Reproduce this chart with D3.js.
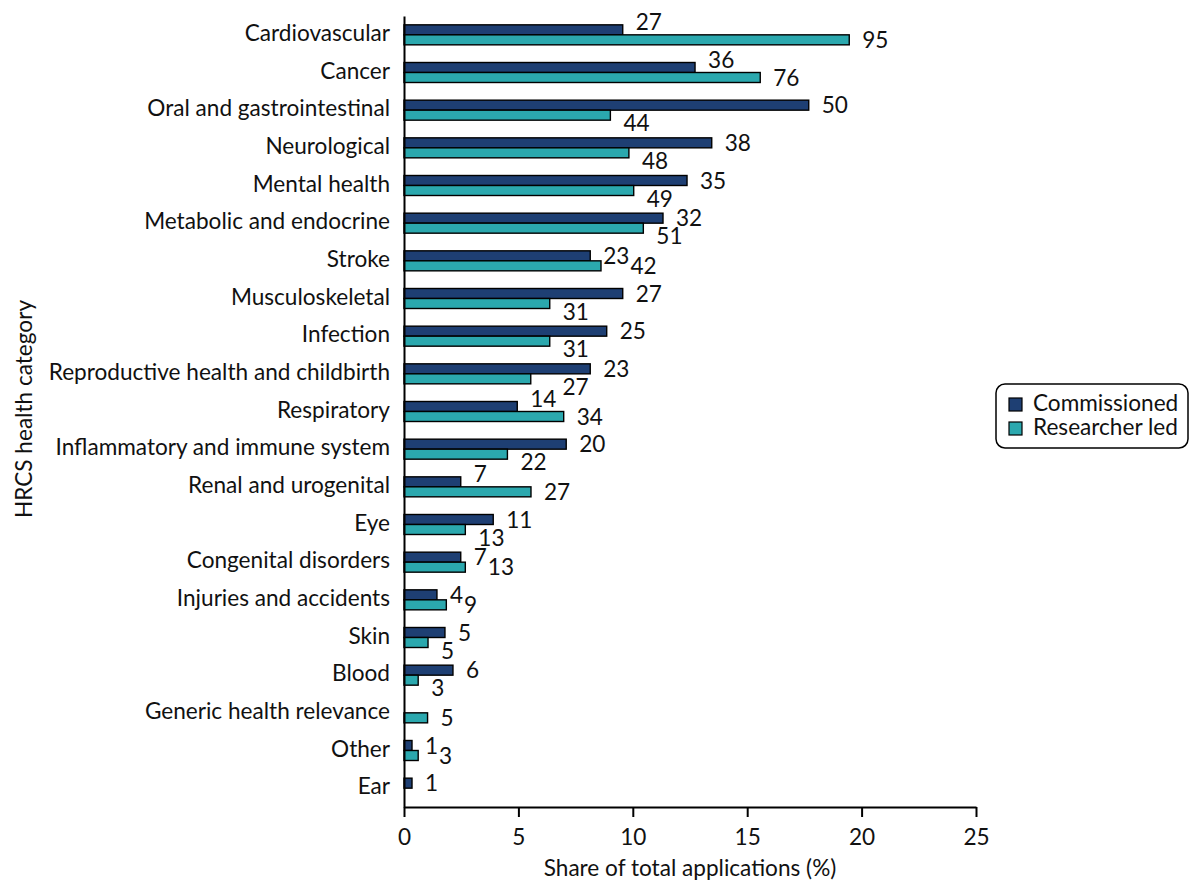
<!DOCTYPE html>
<html><head><meta charset="utf-8">
<script src="https://cdn.jsdelivr.net/npm/d3@7"></script>
<style>
body{margin:0;background:#fff}
text{font-family:Lato,"Noto Sans",sans-serif;fill:#111}
</style>
</head><body>
<svg id="c" width="1189" height="882"></svg>
<script>
const categories = ["Cardiovascular","Cancer","Oral and gastrointestinal","Neurological","Mental health",
  "Metabolic and endocrine","Stroke","Musculoskeletal","Infection","Reproductive health and childbirth",
  "Respiratory","Inflammatory and immune system","Renal and urogenital","Eye","Congenital disorders",
  "Injuries and accidents","Skin","Blood","Generic health relevance","Other","Ear"];
const seriesNames = ["Commissioned","Researcher led"];
const commissionedShare = [9.56,12.72,17.69,13.45,12.37,11.32,8.14,9.56,8.86,8.14,4.95,7.09,2.48,3.90,2.48,1.44,1.79,2.14,null,0.35,0.35];
const researcherShare   = [19.46,15.57,9.02,9.83,10.04,10.46,8.61,6.37,6.37,5.54,6.98,4.52,5.55,2.68,2.68,1.85,1.05,0.62,1.03,0.62,null];
const commissionedCount = [27,36,50,38,35,32,23,27,25,23,14,20,7,11,7,4,5,6,null,1,1];
const researcherCount   = [95,76,44,48,49,51,42,31,31,27,34,22,27,13,13,9,5,3,5,3,null];
const xTicks = [0,5,10,15,20,25];
const xTitle = "Share of total applications (%)";
const yTitle = "HRCS health category";

const colors = ["#1e3f73","#2ba8ae"];
const FS = 22.6;
const svg = d3.select("#c");
const x = d3.scaleLinear().domain([0,25]).range([404,976]);
const y = d3.scaleBand().domain(categories).range([16,807]);
const barH = 10;

const rows = categories.map((c,i)=>({c, vals:[commissionedShare[i],researcherShare[i]], counts:[commissionedCount[i],researcherCount[i]]}));

// bars
const g = svg.append("g");
rows.forEach(r=>{
  const mid = y(r.c)+y.bandwidth()/2;
  r.vals.forEach((v,k)=>{
    if(v==null) return;
    g.append("rect").attr("x",x(0)).attr("y",mid-barH+k*barH).attr("width",x(v)-x(0)).attr("height",barH)
      .attr("fill",colors[k]).attr("stroke","#000").attr("stroke-width",1.4);
  });
});

// axes
const xa = svg.append("g").attr("transform","translate(0,807)")
  .call(d3.axisBottom(x).tickValues(xTicks).tickSize(10).tickSizeOuter(0).tickPadding(12));
xa.selectAll("path,line").attr("stroke","#000").attr("stroke-width",2);
xa.selectAll("text").attr("font-size",FS).attr("font-family","Lato").attr("fill","#111");
const ya = svg.append("g").attr("transform","translate(404,0)")
  .call(d3.axisLeft(y).tickSize(0).tickSizeOuter(0).tickPadding(14));
ya.selectAll("path").attr("stroke","#000").attr("stroke-width",2);
ya.selectAll("text").attr("font-size",FS).attr("font-family","Lato").attr("fill","#111").attr("dy","0.28em");

// value labels with simple repel
const lg = svg.append("g");
const allLabs = [];
const H = 16;
const overlap = (p,q)=> Math.abs(p.y-q.y) < H && p.x < q.x + q.w && q.x < p.x + p.w;
rows.forEach(r=>{
  const mid = y(r.c)+y.bandwidth()/2;
  const labs = [];
  r.vals.forEach((v,k)=>{
    if(v==null) {labs.push(null); return;}
    const t = lg.append("text").attr("font-size",FS).text(r.counts[k]);
    const w = t.node().getComputedTextLength();
    labs.push({t, w, x:x(v)+13, y:mid-barH/2+k*barH});
  });
  const [a,b] = labs;
  if(a && b){
    if(x(r.vals[1]) > a.x-1) a.y -= 8;
    if(x(r.vals[0]) > b.x-1) b.y += 8;
    if(overlap(a,b)) b.x = Math.max(b.x, a.x + a.w + 1);
  }
  labs.forEach(l=>{ if(l) allLabs.push(l); });
});
// cross-group pass: move the upper label right of the lower one
for(let i=0;i<allLabs.length;i++){
  for(let j=i+1;j<allLabs.length;j++){
    const p = allLabs[i], q = allLabs[j];
    if(overlap(p,q)){
      if(p.y < q.y) p.x = q.x + q.w + 6; else q.x = p.x + p.w + 6;
    }
  }
}
allLabs.forEach(l=> l.t.attr("x",l.x).attr("y",l.y).attr("dy","0.36em"));

// titles
svg.append("text").attr("x",690).attr("y",876).attr("text-anchor","middle").attr("font-size",FS).text(xTitle);
svg.append("text").attr("transform","translate(32,409) rotate(-90)").attr("text-anchor","middle").attr("font-size",FS).text(yTitle);

// legend
const leg = svg.append("g");
leg.append("rect").attr("x",996).attr("y",384).attr("width",192).attr("height",64).attr("rx",9)
  .attr("fill","#fff").attr("stroke","#000").attr("stroke-width",1.5);
seriesNames.forEach((s,k)=>{
  leg.append("rect").attr("x",1009).attr("y",398+k*24).attr("width",13).attr("height",13)
    .attr("fill",colors[k]).attr("stroke","#000").attr("stroke-width",1.2);
  leg.append("text").attr("x",1033).attr("y",411+k*24).attr("font-size",FS).text(s);
});
</script>
</body></html>
